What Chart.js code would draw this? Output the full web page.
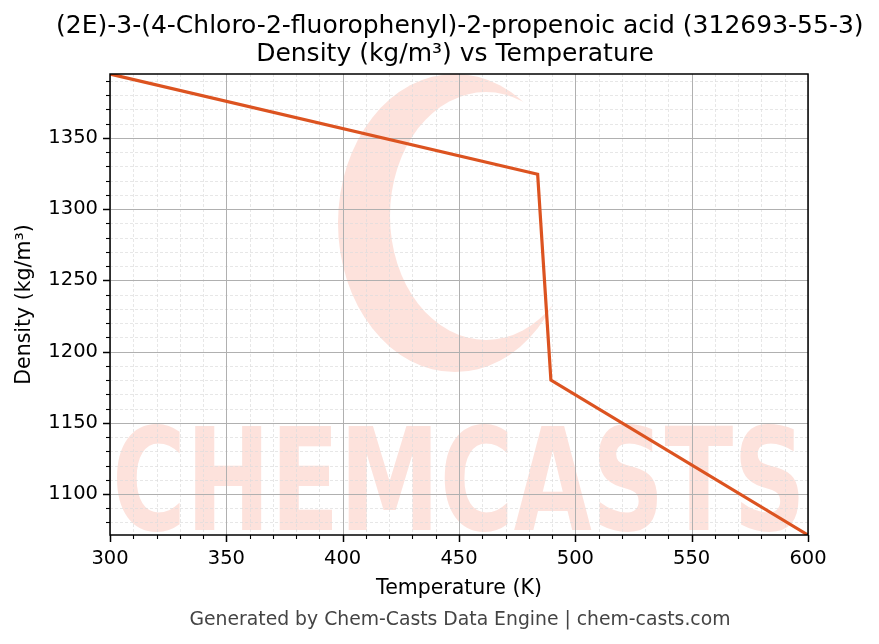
<!DOCTYPE html>
<html>
<head>
<meta charset="utf-8">
<script src="https://cdn.jsdelivr.net/npm/chart.js@4.4.1/dist/chart.umd.min.js"></script>
<style>
  body { margin: 0; background: #fff; font-family: 'DejaVu Sans', sans-serif; }
  #wrap { position: relative; width: 879px; height: 644px; }
  .txt { position: absolute; left: 56px; width: 798px; text-align: center; white-space: nowrap; color: #000; }
</style>
</head>
<body>
<div id="wrap">
  <canvas id="c" width="879" height="644"></canvas>
  <div class="txt" style="top:11px;font-size:25px;line-height:28px">(2E)-3-(4-Chloro-2-fluorophenyl)-2-propenoic acid (312693-55-3)<br>Density (kg/m³) vs Temperature</div>
  <div class="txt" style="top:608px;left:61px;font-size:18.8px;color:#444">Generated by Chem-Casts Data Engine | chem-casts.com</div>
</div>
<script>
// values
const temps = [300, 483.8, 489.5, 600];
const density = [1394.9, 1324.5, 1180.0, 1071.2];
const xRange = [300, 600];
const yRange = [Math.min(...density), Math.max(...density)];
const majorStep = 50;
const minorStep = 10;

const font = { family: 'DejaVu Sans', size: 19.5 };
const titleFont = { family: 'DejaVu Sans', size: 20.5 };

// watermark behind everything
const watermark = {
  id: 'watermark',
  beforeDraw(chart) {
    const { ctx, chartArea: a } = chart;
    ctx.save();
    ctx.beginPath();
    ctx.rect(a.left, a.top, a.right - a.left, a.bottom - a.top);
    ctx.clip();
    ctx.fillStyle = '#fde2dc';
    // crescent logo
    ctx.beginPath();
    ctx.ellipse(455, 223, 117, 149, 0, 0, Math.PI * 2);
    ctx.fill();
    ctx.globalCompositeOperation = 'destination-out';
    ctx.beginPath();
    ctx.ellipse(486, 216, 96, 124, 0, 0, Math.PI * 2);
    ctx.fill();
    ctx.globalCompositeOperation = 'source-over';
    ctx.font = 'bold 142px "DejaVu Sans"';
    ctx.textBaseline = 'alphabetic';
    ctx.fillText('CHEMCASTS', a.left + 2, 530, a.right - a.left - 4);
    ctx.restore();
  }
};

function tickValues(scale) {
  const out = [];
  const start = Math.ceil(scale.min / minorStep) * minorStep;
  for (let v = start; v <= scale.max + 1e-9; v += minorStep) out.push(v);
  return out;
}

const mplGrid = {
  id: 'mplGrid',
  beforeDatasetsDraw(chart) {
    const { ctx, chartArea: a, scales: { x, y } } = chart;
    ctx.save();
    // minor grid
    ctx.strokeStyle = '#dddddd';
    ctx.lineWidth = 0.7;
    ctx.setLineDash([3, 2]);
    for (const v of tickValues(x)) {
      if (v % majorStep === 0) continue;
      const px = Math.round(x.getPixelForValue(v)) + 0.5;
      ctx.beginPath(); ctx.moveTo(px, a.top); ctx.lineTo(px, a.bottom); ctx.stroke();
    }
    for (const v of tickValues(y)) {
      if (v % majorStep === 0) continue;
      const py = Math.round(y.getPixelForValue(v)) + 0.5;
      ctx.beginPath(); ctx.moveTo(a.left, py); ctx.lineTo(a.right, py); ctx.stroke();
    }
    // major grid
    ctx.setLineDash([]);
    ctx.strokeStyle = '#b0b0b0';
    ctx.lineWidth = 1;
    for (const v of tickValues(x)) {
      if (v % majorStep !== 0) continue;
      const px = Math.round(x.getPixelForValue(v)) + 0.5;
      ctx.beginPath(); ctx.moveTo(px, a.top); ctx.lineTo(px, a.bottom); ctx.stroke();
    }
    for (const v of tickValues(y)) {
      if (v % majorStep !== 0) continue;
      const py = Math.round(y.getPixelForValue(v)) + 0.5;
      ctx.beginPath(); ctx.moveTo(a.left, py); ctx.lineTo(a.right, py); ctx.stroke();
    }
    ctx.restore();
  },
  afterDatasetsDraw(chart) {
    const { ctx, chartArea: a, scales: { x, y } } = chart;
    ctx.save();
    ctx.strokeStyle = '#000';
    // tick marks, outside
    for (const v of tickValues(x)) {
      const major = v % majorStep === 0;
      const px = Math.round(x.getPixelForValue(v)) + 0.5;
      ctx.lineWidth = major ? 1.5 : 1.1;
      ctx.beginPath(); ctx.moveTo(px, a.bottom); ctx.lineTo(px, a.bottom + (major ? 7 : 4)); ctx.stroke();
    }
    for (const v of tickValues(y)) {
      const major = v % majorStep === 0;
      const py = Math.round(y.getPixelForValue(v)) + 0.5;
      ctx.lineWidth = major ? 1.5 : 1.1;
      ctx.beginPath(); ctx.moveTo(a.left, py); ctx.lineTo(a.left - (major ? 7 : 4), py); ctx.stroke();
    }
    // frame
    ctx.lineWidth = 1.5;
    ctx.strokeRect(a.left, a.top, a.right - a.left, a.bottom - a.top);
    ctx.restore();
  }
};

new Chart(document.getElementById('c'), {
  type: 'line',
  data: {
    datasets: [{
      data: temps.map((t, i) => ({ x: t, y: density[i] })),
      borderColor: '#dc5320',
      borderWidth: 3.2,
      pointRadius: 0,
      tension: 0,
      fill: false
    }]
  },
  options: {
    responsive: false,
    animation: false,
    layout: { padding: { left: 0, right: 71, top: 74, bottom: 39 } },
    plugins: { legend: { display: false }, tooltip: { enabled: false } },
    scales: {
      x: {
        type: 'linear',
        min: xRange[0],
        max: xRange[1],
        afterFit: (s) => { s.height = 70; },
        grid: { drawOnChartArea: false, drawTicks: false },
        border: { display: false },
        ticks: {
          stepSize: minorStep,
          autoSkip: false,
          maxRotation: 0,
          padding: 12,
          color: '#000',
          font,
          callback: (v) => (v % majorStep === 0 ? String(v) : '')
        },
        title: { display: true, text: 'Temperature (K)', color: '#000', font: titleFont, padding: { top: 4, bottom: 4 } }
      },
      y: {
        type: 'linear',
        min: yRange[0],
        max: yRange[1],
        afterFit: (s) => { s.width = 110; },
        grid: { drawOnChartArea: false, drawTicks: false },
        border: { display: false },
        ticks: {
          stepSize: minorStep,
          autoSkip: false,
          padding: 12,
          color: '#000',
          font,
          callback: (v) => (v % majorStep === 0 ? String(v) : '')
        },
        title: { display: true, text: 'Density (kg/m³)', color: '#000', font: titleFont, padding: { top: 12, bottom: 4 } }
      }
    }
  },
  plugins: [watermark, mplGrid]
});
</script>
</body>
</html>
